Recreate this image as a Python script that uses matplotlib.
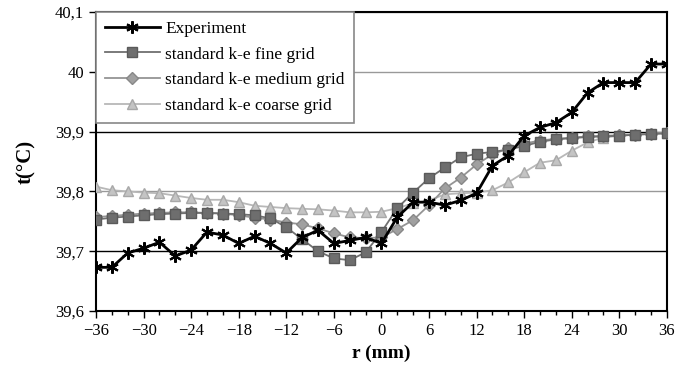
import matplotlib
matplotlib.use("Agg")
import matplotlib.pyplot as plt
from matplotlib.ticker import MultipleLocator, FuncFormatter

plt.rcParams['font.family'] = ['Liberation Serif', 'DejaVu Serif']

r = list(range(-36, 37, 2))

experiment = [39.673, 39.673, 39.697, 39.705, 39.715, 39.692, 39.702, 39.732, 39.727,
              39.713, 39.725, 39.713, 39.697, 39.723, 39.735, 39.713, 39.718, 39.723,
              39.713, 39.757, 39.782, 39.782, 39.777, 39.785, 39.797, 39.843, 39.860,
              39.893, 39.907, 39.915, 39.932, 39.965, 39.982, 39.982, 39.982, 40.013,
              40.013]

fine = [39.753, 39.756, 39.758, 39.760, 39.762, 39.763, 39.764, 39.764, 39.763,
        39.762, 39.760, 39.755, 39.740, 39.720, 39.700, 39.688, 39.685, 39.698,
        39.732, 39.772, 39.798, 39.822, 39.840, 39.857, 39.863, 39.866, 39.870,
        39.876, 39.883, 39.887, 39.889, 39.891, 39.892, 39.893, 39.895, 39.896,
        39.897]

medium = [39.757, 39.759, 39.761, 39.763, 39.764, 39.765, 39.765, 39.764, 39.763,
          39.760, 39.756, 39.753, 39.748, 39.745, 39.738, 39.730, 39.723, 39.722,
          39.723, 39.737, 39.752, 39.777, 39.805, 39.823, 39.845, 39.862, 39.872,
          39.880, 39.885, 39.888, 39.890, 39.892, 39.893, 39.894, 39.895, 39.896,
          39.898]

coarse = [39.808, 39.802, 39.800, 39.798, 39.797, 39.793, 39.789, 39.786, 39.786,
          39.782, 39.776, 39.774, 39.772, 39.771, 39.770, 39.768, 39.765, 39.765,
          39.766, 39.772, 39.780, 39.785, 39.795, 39.797, 39.798, 39.802, 39.815,
          39.832, 39.848, 39.852, 39.868, 39.882, 39.890, 39.893, 39.895, 39.897,
          39.898]

fig = plt.figure(figsize=(6.78, 3.73), dpi=100)
ax = fig.add_axes([0.1416, 0.1662, 0.842, 0.8016])

ax.plot(r, coarse, color='#b8b8b8', lw=1.3, marker='^', ms=7.5,
        mfc='#c4c4c4', mec='#a8a8a8', label='standard k-e coarse grid', zorder=3)
ax.plot(r, medium, color='#949494', lw=1.3, marker='D', ms=6.5,
        mfc='#a0a0a0', mec='#888888', label='standard k-e medium grid', zorder=4)
ax.plot(r, fine, color='#707070', lw=1.3, marker='s', ms=7.5,
        mfc='#6e6e6e', mec='#5a5a5a', label='standard k-e fine grid', zorder=5)
ax.plot(r, experiment, color='black', lw=2, marker=(6, 2, 0), ms=9, mew=1.5,
        label='Experiment', zorder=6)

ax.set_xlim(-36, 36)
ax.set_ylim(39.6, 40.1)
ax.xaxis.set_major_locator(MultipleLocator(6))
ax.xaxis.set_minor_locator(MultipleLocator(2))
ax.yaxis.set_major_locator(MultipleLocator(0.1))
ax.yaxis.set_major_formatter(FuncFormatter(lambda v, p: ('%g' % round(v, 2)).replace('.', ',')))

ax.tick_params(axis='both', which='both', direction='out', labelsize=12, colors='black')
ax.tick_params(axis='both', which='major', length=5, width=1)
ax.tick_params(axis='x', which='minor', length=3, width=1)

ax.grid(axis='y', lw=1)
for v, gl in zip(ax.get_yticks(), ax.get_ygridlines()):
    gl.set_color('black' if round(v, 1) in (39.7, 39.9) else '#999999')

for sp in ax.spines.values():
    sp.set_color('black')
    sp.set_linewidth(1.5)

ax.set_xlabel('r (mm)', fontsize=14, fontweight='bold', labelpad=4)
ax.set_ylabel('t(°C)', fontsize=15, fontweight='bold', labelpad=14)

handles, labels = ax.get_legend_handles_labels()
order = [3, 2, 1, 0]
leg = ax.legend([handles[i] for i in order], [labels[i] for i in order],
                loc='upper left', bbox_to_anchor=(0, 1), borderaxespad=0,
                fontsize=12.5, frameon=True, fancybox=False, framealpha=1,
                edgecolor='#888888', handlelength=3.2, handletextpad=0.3,
                labelspacing=0.55, borderpad=0.5)
leg.get_frame().set_linewidth(1.2)
leg.set_zorder(10)

fig.savefig('out.png', dpi=100)
